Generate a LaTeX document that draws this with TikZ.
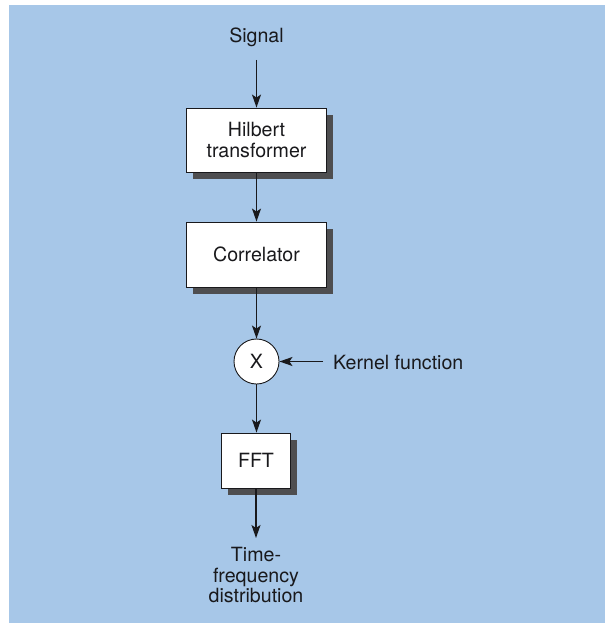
\documentclass[tikz,border=0pt]{standalone}
\usepackage{fontspec}
\setmainfont{TeX Gyre Heros}
\usetikzlibrary{arrows.meta,shadows}
\definecolor{bgblue}{RGB}{167,199,232}
\definecolor{shadowgray}{RGB}{78,78,80}
\definecolor{inkc}{RGB}{25,25,28}
\begin{document}
\begin{tikzpicture}[x=1pt,y=-1pt,
  txt/.style={font=\fontsize{19.6}{20.6}\selectfont, text=inkc, inner sep=0pt, align=center},
  blockbox/.style={draw=inkc, line width=0.9pt, fill=white, minimum width=140pt, inner sep=0pt,
    font=\fontsize{19.6}{20.6}\selectfont, text=inkc, align=center,
    drop shadow={shadow xshift=6.5pt, shadow yshift=-6.5pt, fill=shadowgray, opacity=1}},
  mult/.style={circle, draw=inkc, line width=0.9pt, fill=white, minimum size=45pt, inner sep=0pt,
    font=\fontsize{19.6}{20.6}\selectfont, text=inkc},
  flow/.style={draw=inkc, line width=1.2pt, -{Stealth[length=13pt,width=9pt,inset=3pt]}}
]
\useasboundingbox (0,0) rectangle (605,626);
\fill[white] (0,0) rectangle (605,626);
\fill[bgblue] (9,5) rectangle (605,623);

\node[txt, anchor=base] (signal) at (256.5,43) {Signal};
\coordinate (sigstart) at (256.5,60);
\node[blockbox, minimum height=64pt] (hilbert) at (256.5,140) {Hilbert\\transformer};
\node[blockbox, minimum height=65pt] (corr) at (256.5,254.5) {Correlator};
\node[mult] (mul) at (256.5,361.5) {X};
\node[txt, anchor=west] (kernel) at (333,362) {Kernel function};
\coordinate (kstart) at (323,361.5);
\node[blockbox, minimum width=69pt, minimum height=55pt] (fft) at (256,460.5) {FFT};
\node[txt, anchor=north] (tfd) at (256,547) {Time-\\frequency\\distribution};
\coordinate (tfdend) at (256,538);

\draw[flow] (sigstart) -- (hilbert.north);
\draw[flow] (hilbert.south) -- (corr.north);
\draw[flow] (corr.south) -- (corr.south |- mul.north);
\draw[flow] (kstart) -- (mul.east);
\draw[flow] (mul.south) -- (mul.south |- fft.north);
\draw[flow] (fft.south) -- (tfdend);
\end{tikzpicture}
\end{document}
